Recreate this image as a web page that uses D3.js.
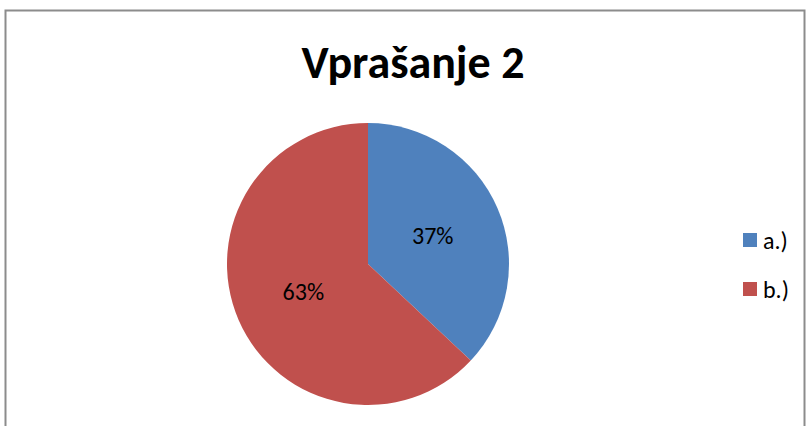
<!DOCTYPE html>
<html>
<head>
<meta charset="utf-8">
<script src="https://cdn.jsdelivr.net/npm/d3@7"></script>
<style>
  body { margin: 0; background: #fff; }
  text { font-family: Carlito, Lato, "Open Sans", sans-serif; }
</style>
</head>
<body>
<svg id="chart"></svg>
<script>
var title = 'Vprašanje 2';
var categories = ['a.)', 'b.)'];
var values = [37, 63];
var colors = ['#4F81BD', '#C0504D'];

var width = 806, height = 426;
var svg = d3.select('#chart').attr('width', width).attr('height', height);

// chart area border (runs past the bottom/right of the picture)
svg.append('rect').attr('x', 5.5).attr('y', 10.5).attr('width', 799).attr('height', 430)
    .attr('fill', '#fff').attr('stroke', '#8c8c8c').attr('stroke-width', 2);

svg.append('text').attr('x', 413).attr('y', 78).attr('text-anchor', 'middle')
    .style('font-size', '46px').style('font-weight', 'bold').text(title);

var cx = 368, cy = 264, r = 141;
var pie = d3.pie().sort(null).value(function(d) { return d; });
var arc = d3.arc().innerRadius(0).outerRadius(r);
var labelArc = d3.arc().innerRadius(r * 0.5).outerRadius(r * 0.5);
var total = d3.sum(values);

var g = svg.append('g').attr('transform', 'translate(' + cx + ',' + cy + ')');
var arcs = pie(values);
g.selectAll('path').data(arcs).enter().append('path')
    .attr('d', arc)
    .attr('fill', function(d, i) { return colors[i]; });
g.selectAll('text').data(arcs).enter().append('text')
    .attr('transform', function(d) { return 'translate(' + labelArc.centroid(d) + ')'; })
    .attr('text-anchor', 'middle').attr('dy', '0.35em')
    .style('font-size', '24px').attr('fill', '#000')
    .text(function(d) { return Math.round(d.value / total * 100) + '%'; });

var legend = svg.append('g').attr('transform', 'translate(743,233)');
var item = legend.selectAll('g').data(categories).enter().append('g')
    .attr('transform', function(d, i) { return 'translate(0,' + i * 49 + ')'; });
item.append('rect').attr('width', 14).attr('height', 14)
    .attr('fill', function(d, i) { return colors[i]; });
item.append('text').attr('x', 20).attr('y', 8).attr('dy', '0.35em')
    .style('font-size', '24px').text(function(d) { return d; });
</script>
</body>
</html>
